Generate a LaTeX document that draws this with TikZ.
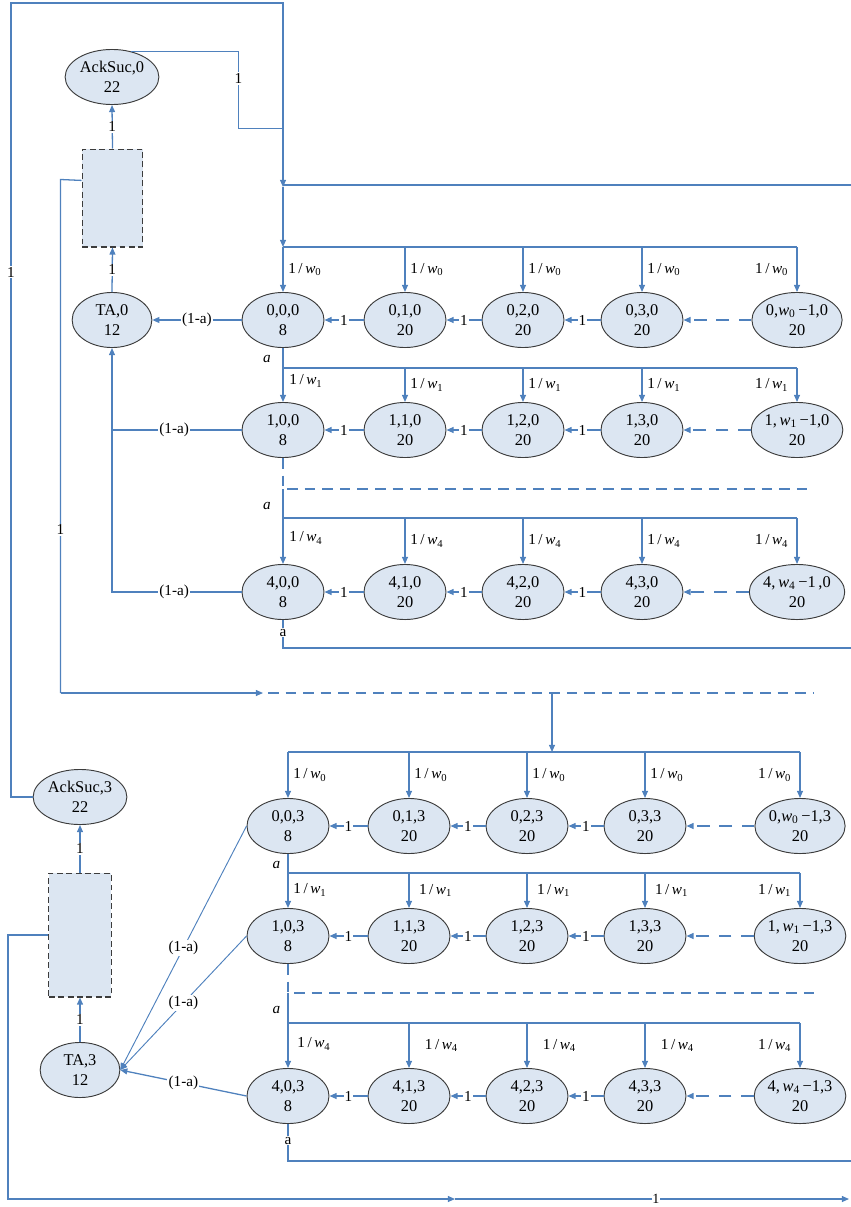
\documentclass[tikz,border=0pt]{standalone}
\usepackage{fontspec}
\setmainfont{Liberation Serif}
\usetikzlibrary{shapes.geometric,arrows.meta,calc}
\definecolor{lb}{RGB}{79,129,189}
\definecolor{nf}{RGB}{220,230,242}
\definecolor{nd}{RGB}{60,60,60}
\newcommand{\fsz}{\fontsize{14}{17}\selectfont}
\newcommand{\lsz}{\fontsize{13}{15}\selectfont}
\newcommand{\ww}[1]{\textit{w}\textsubscript{#1}}
\newcommand{\rw}[1]{1\,/\,\ww{#1}}
\begin{document}
\begin{tikzpicture}[x=0.03cm,y=-0.03cm,
 st/.style={ellipse,draw=nd,fill=nf,line width=0.8pt,minimum width=70pt,minimum height=47pt,inner sep=0pt,align=center,font=\fsz},
 stw/.style={st,minimum width=77pt},
 bx/.style={draw=nd,fill=nf,dash pattern=on 5pt off 3pt,line width=0.9pt,inner sep=0pt},
 ln/.style={draw=lb,line width=1.1pt},
 ar/.style={ln,-{Triangle[length=6pt,width=5pt]}},
 dl/.style={dash pattern=on 9pt off 6pt},
 dla/.style={dash pattern=on 11pt off 8pt},
 lab/.style={fill=white,inner sep=1pt,font=\lsz},
 wl/.style={font=\lsz,inner sep=1pt},
]
\useasboundingbox (0,0) rectangle (851,1207);

% ---------- top block nodes ----------
\node[st,minimum width=80pt] (AS0) at (112,77) {AckSuc,0\\22};
\node[bx,minimum width=52pt,minimum height=83.6pt] (R0) at (112.5,198) {};
\node[st,minimum width=68pt] (TA0) at (112,320) {TA,0\\12};

\node[st] (a00) at (283,320) {0,0,0\\8};
\node[st] (a01) at (405,320) {0,1,0\\20};
\node[st] (a02) at (523,320) {0,2,0\\20};
\node[st] (a03) at (642,320) {0,3,0\\20};
\node[stw] (a0w) at (797,320) {0,\ww{0}\,−1,0\\20};

\node[st] (a10) at (283,430) {1,0,0\\8};
\node[st] (a11) at (405,430) {1,1,0\\20};
\node[st] (a12) at (523,430) {1,2,0\\20};
\node[st] (a13) at (642,430) {1,3,0\\20};
\node[stw] (a1w) at (797,430) {1,\,\ww{1}\,−1,0\\20};

\node[st] (a40) at (283,592) {4,0,0\\8};
\node[st] (a41) at (405,592) {4,1,0\\20};
\node[st] (a42) at (523,592) {4,2,0\\20};
\node[st] (a43) at (642,592) {4,3,0\\20};
\node[stw] (a4w) at (797,592) {4,\,\ww{4}\,−1\,,0\\20};

% ---------- bottom block nodes ----------
\node[st,minimum width=80pt] (AS3) at (80,797) {AckSuc,3\\22};
\node[bx,minimum width=53pt,minimum height=105.8pt] (R3) at (80,935) {};
\node[st,minimum width=68pt] (TA3) at (80,1070) {TA,3\\12};

\node[st] (b00) at (288,826) {0,0,3\\8};
\node[st] (b01) at (409,826) {0,1,3\\20};
\node[st] (b02) at (527,826) {0,2,3\\20};
\node[st] (b03) at (645,826) {0,3,3\\20};
\node[stw] (b0w) at (800,826) {0,\ww{0}\,−1,3\\20};

\node[st] (b10) at (288,936) {1,0,3\\8};
\node[st] (b11) at (409,936) {1,1,3\\20};
\node[st] (b12) at (527,936) {1,2,3\\20};
\node[st] (b13) at (645,936) {1,3,3\\20};
\node[stw] (b1w) at (800,936) {1,\,\ww{1}\,−1,3\\20};

\node[st] (b40) at (288,1096) {4,0,3\\8};
\node[st] (b41) at (409,1096) {4,1,3\\20};
\node[st] (b42) at (527,1096) {4,2,3\\20};
\node[st] (b43) at (645,1096) {4,3,3\\20};
\node[stw] (b4w) at (800,1096) {4,\,\ww{4}\,−1,3\\20};

% ---------- coordinates ----------
\coordinate (f0) at (283,247);
\coordinate (f1) at (283,368);
\coordinate (f4) at (283,518);
\coordinate (g0) at (288,752);
\coordinate (g1) at (288,873);
\coordinate (g4) at (288,1023);

% ---------- outer loops ----------
\draw[ln] (AS3.west) -- (11,797) -- node[lab,pos=0.661]{1} (11,3) -- (283,3) -- (283,128);
\draw[ar] (283,128) -- (283,187);
\draw[ar] (283,187) -- (f0);
\draw[ln] (851,185) -- (283,185);
\draw[ln] (AS0.54) -- (AS0.54 -| 238.5,0) -- node[lab,pos=0.35]{1} (238.5,128.5) -- (283,128.5);

% top block feeds
\draw[ln] (f0) -- (797,247);
\foreach \n/\x in {00/283,01/405,02/523,03/642}
  \draw[ar] (\x,247) -- node[wl,anchor=west,xshift=3pt]{\rw{0}} (a\n.north);
\draw[ar] (797,247) -- node[wl,anchor=east,xshift=-6pt]{\rw{0}} (a0w.north);

\draw[ar] (a00.south) -- node[wl,pos=0.2,left=9pt]{\textit{a}} (a10.north);
\draw[ln] (f1) -- (797,368);
\foreach \n/\x in {11/405,12/523,13/642}
  \draw[ar] (\x,368) -- node[wl,anchor=west,xshift=3pt]{\rw{1}} (a\n.north);
\node[wl,anchor=west] at (288,381) {\rw{1}};
\draw[ar] (797,368) -- node[wl,anchor=east,xshift=-6pt]{\rw{1}} (a1w.north);

\draw[ln,dl] (a10.south) -- (283,489) -- (813,489);
\draw[ar] (283,489) -- node[wl,pos=0.22,left=9pt]{\textit{a}} (a40.north);
\draw[ln] (f4) -- (797,518);
\foreach \n/\x in {41/405,42/523,43/642}
  \draw[ar] (\x,518) -- node[wl,anchor=west,xshift=3pt]{\rw{4}} (a\n.north);
\node[wl,anchor=west] at (288,538) {\rw{4}};
\draw[ar] (797,518) -- node[wl,anchor=east,xshift=-6pt]{\rw{4}} (a4w.north);
\draw[ln] (a40.south) -- node[lab,pos=0.45]{a} (283,648) -- (851,648);

% horizontal arrows top
\foreach \r in {0,1,4}{
  \draw[ar] (a\r1.west) -- node[lab]{1} (a\r0.east);
  \draw[ar] (a\r2.west) -- node[lab]{1} (a\r1.east);
  \draw[ar] (a\r3.west) -- node[lab]{1} (a\r2.east);
  \draw[ar,dla] (a\r w.west) -- (a\r3.east);
}

% (1-a) top
\draw[ar] (a00.west) -- node[lab]{(1-a)} (TA0.east);
\draw[ln] (a10.west) -- node[lab,pos=0.52]{(1-a)} (112,430);
\draw[ar] (a40.west) -- node[lab,pos=0.52]{(1-a)} (112,592) -- (TA0.south);

% TA0 / box / AckSuc0
\draw[ar] (TA0.north) -- node[lab]{1} (R0.south);
\draw[ar] (R0.north) -- node[lab]{1} (AS0.south);

% box0 to lower block
\draw[ln] ([yshift=15pt]R0.west) -- (60.5,179.5) -- node[lab,pos=0.682]{1} (60.5,693);
\draw[ar] (60.5,693) -- (263,693);
\draw[ln,dl] (268,693) -- (813,693);
\draw[ar] (552,693) -- (552,752);

% bottom block feeds
\draw[ln] (g0) -- (800,752);
\foreach \n/\x in {00/288,01/409,02/527,03/645}
  \draw[ar] (\x,752) -- node[wl,anchor=west,xshift=3pt]{\rw{0}} (b\n.north);
\draw[ar] (800,752) -- node[wl,anchor=east,xshift=-6pt]{\rw{0}} (b0w.north);

\draw[ar] (b00.south) -- node[wl,pos=0.2,left=5pt]{\textit{a}} (b10.north);
\draw[ln] (g1) -- (800,873);
\foreach \n/\x in {11/409,12/527,13/645}
  \draw[ar] (\x,873) -- node[wl,anchor=west,xshift=7pt]{\rw{1}} (b\n.north);
\node[wl,anchor=west] at (292,890) {\rw{1}};
\draw[ar] (800,873) -- node[wl,anchor=east,xshift=-6pt]{\rw{1}} (b1w.north);

\draw[ln,dl] (b10.south) -- (288,993) -- (818,993);
\draw[ar] (288,993) -- node[wl,pos=0.22,left=5pt]{\textit{a}} (b40.north);
\draw[ln] (g4) -- (800,1023);
\foreach \n/\x in {41/409,42/527,43/645}
  \draw[ar] (\x,1023) -- node[wl,anchor=west,xshift=12pt]{\rw{4}} (b\n.north);
\node[wl,anchor=west] at (296,1044) {\rw{4}};
\draw[ar] (800,1023) -- node[wl,anchor=east,xshift=-6pt]{\rw{4}} (b4w.north);
\draw[ln] (b40.south) -- node[lab,pos=0.45]{a} (288,1161) -- (851,1161);

% horizontal arrows bottom
\foreach \r in {0,1,4}{
  \draw[ar] (b\r1.west) -- node[lab]{1} (b\r0.east);
  \draw[ar] (b\r2.west) -- node[lab]{1} (b\r1.east);
  \draw[ar] (b\r3.west) -- node[lab]{1} (b\r2.east);
  \draw[ar,dla] (b\r w.west) -- (b\r3.east);
}

% (1-a) bottom
\draw[ar,line width=0.8pt] (b00.west) -- node[lab,pos=0.5]{(1-a)} (TA3.east);
\draw[ar,line width=0.8pt] (b10.west) -- node[lab,pos=0.5]{(1-a)} (TA3.east);
\draw[ar] (b40.west) -- node[lab,pos=0.5]{(1-a)} (TA3.east);

% TA3 / box / AckSuc3
\draw[ar] (TA3.north) -- node[lab]{1} (R3.south);
\draw[ar] (R3.north) -- node[lab]{1} (AS3.south);

% bottom loop
\draw[ar] (R3.west) -- (8,935) -- (8,1199) -- (455,1199);
\draw[ar] (455,1199) -- node[lab,pos=0.51,inner sep=0.3pt,font=\fontsize{12}{13}\selectfont]{1} (849,1199);

\end{tikzpicture}
\end{document}
